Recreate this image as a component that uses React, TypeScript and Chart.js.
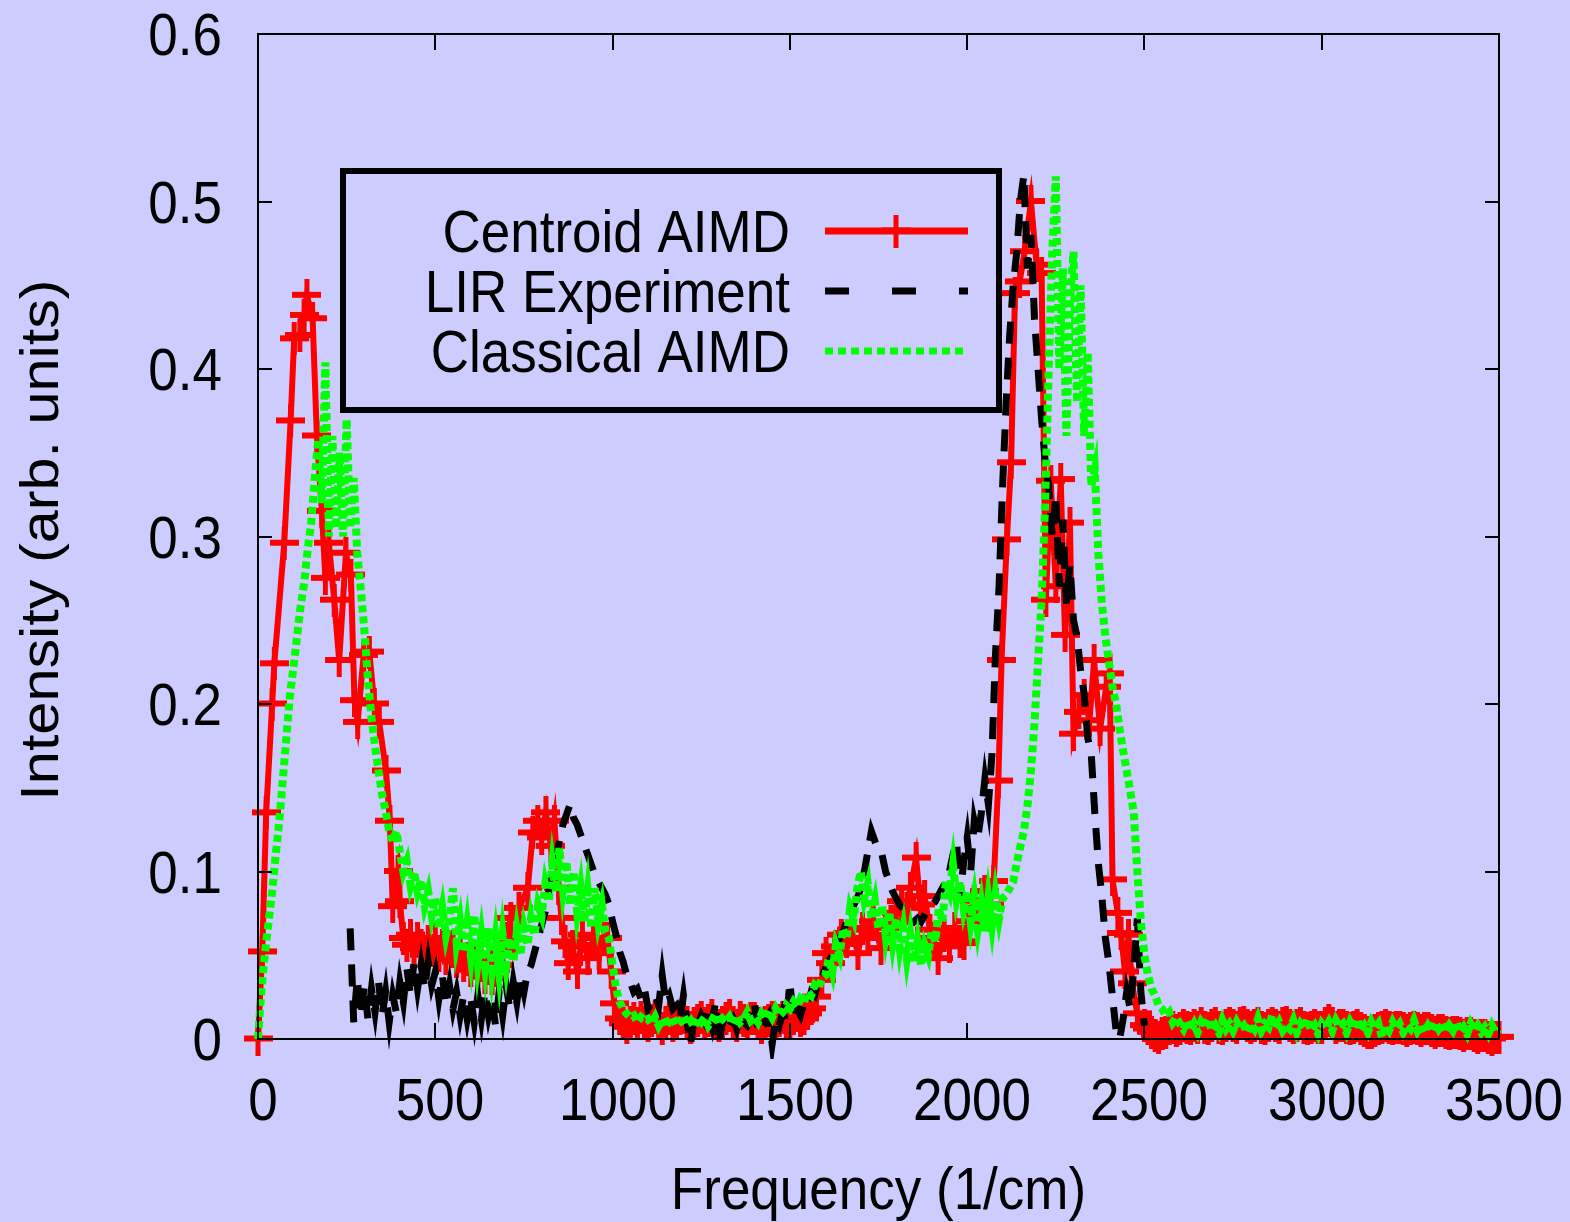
import { useEffect, useRef } from "react";
import { Chart, registerables } from "chart.js";

Chart.register(...registerables);

const FONT_FAMILY = '"Liberation Sans", Arimo, Arial, sans-serif';
const FONT_SIZE = 53;
const STRETCH = 1.12;

const xTickLabels = ["0", "500", "1000", "1500", "2000", "2500", "3000", "3500"];
const yTickLabels = ["0", "0.1", "0.2", "0.3", "0.4", "0.5", "0.6"];
const seriesNames = ["Centroid AIMD", "LIR Experiment", "Classical AIMD"];
const xTitle = "Frequency (1/cm)";
const yTitle = "Intensity (arb. units)";

// ---- Centroid AIMD (red, lines + points), in pieces ----
// low-frequency band, explicit frequencies
const centroidAFreq = [
  0, 12, 23, 40, 46, 74, 92, 102, 118, 130,
  138, 154, 166, 180, 190, 200, 215, 229, 248, 262,
  272, 281, 298, 314, 328, 342, 361, 372, 380, 395,
];
const centroidAIntensity = [
  0.000, 0.052, 0.135, 0.200, 0.224, 0.296, 0.369, 0.418, 0.420, 0.432,
  0.444, 0.430, 0.360, 0.315, 0.275, 0.296, 0.262, 0.226, 0.290, 0.277,
  0.202, 0.189, 0.229, 0.231, 0.200, 0.189, 0.160, 0.130, 0.079, 0.100,
];
// plateau 400..690, every 10 cm-1
const centroidBStart = 400;
const centroidBIntensity = [
  0.082, 0.060, 0.056, 0.062, 0.054, 0.060, 0.056, 0.050, 0.058, 0.053,
  0.060, 0.050, 0.056, 0.048, 0.055, 0.052, 0.046, 0.050, 0.044, 0.048,
  0.041, 0.046, 0.039, 0.044, 0.037, 0.042, 0.036, 0.041, 0.044, 0.052,
];
// 800 cm-1 band, explicit frequencies
const centroidCFreq = [
  700, 713, 736, 761, 775, 789, 800, 812, 826, 836,
  848, 856, 866, 875, 887, 901, 915, 930, 946, 962,
  975, 986, 996, 1005,
];
const centroidCIntensity = [
  0.060, 0.072, 0.078, 0.090, 0.123, 0.130, 0.120, 0.135, 0.115, 0.130,
  0.090, 0.072, 0.058, 0.045, 0.055, 0.040, 0.062, 0.048, 0.060, 0.051,
  0.060, 0.060, 0.040, 0.021,
];
// flat region 1020..1550, every 10 cm-1
const centroidDStart = 1020;
const centroidDIntensity = [
  0.012, 0.009, 0.007, 0.010, 0.012, 0.009, 0.013, 0.010, 0.008, 0.011,
  0.013, 0.009, 0.006, 0.010, 0.012, 0.008, 0.010, 0.012, 0.013, 0.010,
  0.007, 0.009, 0.011, 0.013, 0.009, 0.011, 0.014, 0.010, 0.008, 0.010,
  0.012, 0.014, 0.010, 0.008, 0.013, 0.011, 0.009, 0.012, 0.012, 0.009,
  0.007, 0.010, 0.011, 0.013, 0.009, 0.011, 0.013, 0.010, 0.010, 0.012,
  0.014, 0.011, 0.012, 0.015,
];
// 1560..2500, explicit frequencies
const centroidEFreq = [
  1560, 1575, 1590, 1602, 1615, 1630, 1645, 1660, 1675, 1692,
  1705, 1720, 1735, 1757, 1770, 1785, 1800, 1815, 1830, 1840,
  1856, 1868, 1880, 1895, 1905, 1918, 1935, 1950, 1965, 1980,
  1991, 2005, 2020, 2035, 2050, 2062, 2075, 2088, 2097, 2112,
  2124, 2135, 2148, 2162, 2180, 2196, 2210, 2222, 2236, 2250,
  2264, 2276, 2290, 2300, 2315, 2330, 2345, 2358, 2375, 2392,
  2402, 2410, 2425, 2434, 2445, 2455, 2465, 2480, 2500,
];
const centroidEIntensity = [
  0.018, 0.025, 0.035, 0.051, 0.045, 0.055, 0.062, 0.058, 0.065, 0.051,
  0.066, 0.060, 0.070, 0.054, 0.066, 0.070, 0.075, 0.082, 0.078, 0.090,
  0.108, 0.080, 0.085, 0.065, 0.060, 0.048, 0.062, 0.055, 0.066, 0.058,
  0.057, 0.070, 0.082, 0.075, 0.088, 0.080, 0.094, 0.154, 0.226, 0.298,
  0.344, 0.445, 0.452, 0.470, 0.500, 0.462, 0.457, 0.262, 0.333, 0.270,
  0.334, 0.241, 0.308, 0.182, 0.195, 0.205, 0.190, 0.226, 0.185, 0.210,
  0.218, 0.095, 0.075, 0.063, 0.040, 0.062, 0.033, 0.015, 0.008,
];
// tail 2510..3500, every 10 cm-1
const centroidFStart = 2510;
const centroidFIntensity = [
  0.006, 0.004, 0.002, 0.001, 0.003, 0.004, 0.006, 0.007, 0.005, 0.006,
  0.008, 0.007, 0.006, 0.008, 0.007, 0.009, 0.007, 0.006, 0.008, 0.009,
  0.007, 0.006, 0.008, 0.009, 0.008, 0.007, 0.009, 0.010, 0.008, 0.007,
  0.008, 0.009, 0.007, 0.006, 0.008, 0.009, 0.008, 0.007, 0.009, 0.010,
  0.008, 0.007, 0.008, 0.009, 0.007, 0.006, 0.007, 0.008, 0.007, 0.007,
  0.009, 0.011, 0.009, 0.007, 0.008, 0.008, 0.007, 0.006, 0.007, 0.008,
  0.006, 0.005, 0.004, 0.004, 0.005, 0.006, 0.007, 0.008, 0.007, 0.006,
  0.007, 0.007, 0.006, 0.005, 0.006, 0.007, 0.006, 0.005, 0.006, 0.006,
  0.005, 0.004, 0.005, 0.005, 0.004, 0.003, 0.004, 0.004, 0.003, 0.002,
  0.003, 0.003, 0.002, 0.001, 0.002, 0.002, 0.001, 0.000, 0.001, 0.001,
];
const centroidStep = 10;

// ---- LIR Experiment (black, dashed): 260, 270, ... 2500 ----
const lirStart = 260;
const lirStep = 10;
const lirIntensity = [
  0.066, 0.010, 0.036, 0.014, 0.032, 0.012, 0.030, 0.016, 0.034, 0.014,
  0.028, 0.010, 0.026, 0.016, 0.034, 0.022, 0.042, 0.026, 0.046, 0.030,
  0.044, 0.030, 0.046, 0.032, 0.040, 0.024, 0.038, 0.020, 0.032, 0.018,
  0.028, 0.014, 0.026, 0.012, 0.024, 0.010, 0.026, 0.012, 0.028, 0.014,
  0.024, 0.008, 0.028, 0.014, 0.032, 0.018, 0.034, 0.022, 0.038, 0.028,
  0.040, 0.044, 0.052, 0.060, 0.068, 0.076, 0.088, 0.100, 0.108, 0.118,
  0.128, 0.134, 0.140, 0.132, 0.128, 0.122, 0.116, 0.110, 0.104, 0.098,
  0.094, 0.090, 0.086, 0.080, 0.070, 0.062, 0.052, 0.046, 0.038, 0.034,
  0.028, 0.030, 0.024, 0.030, 0.018, 0.022, 0.026, 0.020, 0.038, 0.022,
  0.026, 0.018, 0.020, 0.012, 0.026, 0.010, -0.003, 0.012, 0.008, 0.014,
  0.010, 0.016, 0.008, 0.022, -0.003, 0.010, 0.014, 0.008, 0.012, 0.006,
  0.014, 0.010, 0.008, 0.012, 0.022, 0.006, 0.012, 0.010, 0.014, -0.003,
  0.012, 0.008, 0.016, 0.010, 0.034, 0.012, 0.018, 0.014, 0.022, 0.020,
  0.028, 0.026, 0.034, 0.036, 0.042, 0.046, 0.050, 0.056, 0.060, 0.064,
  0.070, 0.074, 0.080, 0.084, 0.090, 0.100, 0.112, 0.124, 0.118, 0.112,
  0.110, 0.100, 0.094, 0.088, 0.084, 0.080, 0.078, 0.075, 0.072, 0.070,
  0.072, 0.070, 0.074, 0.078, 0.080, 0.082, 0.086, 0.090, 0.094, 0.100,
  0.110, 0.118, 0.085, 0.105, 0.120, 0.100, 0.130, 0.120, 0.135, 0.155,
  0.140, 0.170, 0.230, 0.270, 0.330, 0.380, 0.420, 0.450, 0.470, 0.500,
  0.516, 0.460, 0.480, 0.430, 0.400, 0.370, 0.345, 0.330, 0.300, 0.325,
  0.270, 0.310, 0.260, 0.283, 0.250, 0.240, 0.220, 0.206, 0.180, 0.170,
  0.135, 0.105, 0.085, 0.060, 0.045, 0.025, 0.005, 0.000, 0.012, 0.028,
  0.018, 0.042, 0.072, 0.028, 0.008,
];

// ---- Classical AIMD (green, dotted): 0, 10, ... 3500 ----
const classicalStart = 0;
const classicalStep = 10;
const classicalIntensity = [
  0.000, 0.030, 0.052, 0.070, 0.088, 0.110, 0.130, 0.155, 0.180, 0.205,
  0.222, 0.240, 0.258, 0.272, 0.292, 0.308, 0.335, 0.358, 0.320, 0.404,
  0.300, 0.360, 0.305, 0.350, 0.300, 0.370, 0.305, 0.335, 0.290, 0.268,
  0.244, 0.215, 0.192, 0.175, 0.160, 0.146, 0.136, 0.124, 0.118, 0.124,
  0.112, 0.100, 0.106, 0.092, 0.100, 0.088, 0.095, 0.080, 0.088, 0.074,
  0.084, 0.066, 0.078, 0.062, 0.072, 0.090, 0.058, 0.070, 0.052, 0.068,
  0.050, 0.074, 0.046, 0.062, 0.044, 0.066, 0.042, 0.060, 0.040, 0.062,
  0.044, 0.060, 0.046, 0.064, 0.050, 0.066, 0.056, 0.072, 0.062, 0.080,
  0.074, 0.092, 0.082, 0.104, 0.088, 0.114, 0.090, 0.106, 0.080, 0.100,
  0.076, 0.090, 0.070, 0.088, 0.066, 0.090, 0.070, 0.080, 0.064, 0.060,
  0.044, 0.030, 0.022, 0.018, 0.015, 0.013, 0.014, 0.010, 0.013, 0.011,
  0.012, 0.009, 0.013, 0.008, 0.012, 0.007, 0.011, 0.013, 0.008, 0.010,
  0.014, 0.009, 0.011, 0.007, 0.012, 0.010, 0.013, 0.008, 0.011, 0.015,
  0.009, 0.012, 0.010, 0.013, 0.009, 0.014, 0.010, 0.012, 0.016, 0.011,
  0.013, 0.010, 0.015, 0.012, 0.017, 0.013, 0.018, 0.014, 0.016, 0.020,
  0.018, 0.022, 0.019, 0.024, 0.022, 0.028, 0.026, 0.032, 0.030, 0.036,
  0.038, 0.048, 0.040, 0.056, 0.050, 0.066, 0.060, 0.078, 0.072, 0.090,
  0.100, 0.084, 0.092, 0.072, 0.082, 0.066, 0.080, 0.062, 0.076, 0.058,
  0.072, 0.054, 0.066, 0.048, 0.062, 0.046, 0.058, 0.044, 0.056, 0.050,
  0.064, 0.058, 0.078, 0.070, 0.094, 0.088, 0.104, 0.084, 0.094, 0.078,
  0.088, 0.070, 0.084, 0.066, 0.080, 0.064, 0.084, 0.068, 0.086, 0.072,
  0.084, 0.086, 0.090, 0.094, 0.105, 0.115, 0.124, 0.139, 0.160, 0.189,
  0.225, 0.262, 0.320, 0.400, 0.470, 0.515, 0.400, 0.460, 0.360, 0.440,
  0.470, 0.380, 0.450, 0.360, 0.410, 0.330, 0.340, 0.290, 0.260, 0.240,
  0.225, 0.210, 0.200, 0.185, 0.172, 0.160, 0.148, 0.135, 0.100, 0.070,
  0.050, 0.038, 0.030, 0.026, 0.020, 0.018, 0.014, 0.016, 0.010, 0.013,
  0.009, 0.006, 0.011, 0.005, 0.009, 0.004, 0.010, 0.007, 0.012, 0.005,
  0.008, 0.004, 0.011, 0.006, 0.009, 0.005, 0.010, 0.006, 0.008, 0.004,
  0.009, 0.006, 0.012, 0.005, 0.009, 0.007, 0.014, 0.006, 0.010, 0.005,
  0.008, 0.006, 0.011, 0.004, 0.009, 0.006, 0.012, 0.005, 0.008, 0.003,
  0.009, 0.006, 0.010, 0.005, 0.011, 0.007, 0.009, 0.004, 0.010, 0.006,
  0.012, 0.005, 0.008, 0.004, 0.010, 0.006, 0.009, 0.001, 0.008, 0.005,
  0.010, 0.006, 0.009, 0.004, 0.008, 0.006, 0.011, 0.005, 0.009, 0.004,
  0.008, 0.005, 0.010, 0.006, 0.009, 0.004, 0.008, 0.005, 0.010, 0.004,
  0.007, 0.003, 0.009, 0.005, 0.008, 0.004, 0.007, 0.003, 0.008, 0.004,
  0.006,
];

const RED = "#ff0000";
const GREEN = "#00ff00";
const BLACK = "#000000";
const BG = "#ccccff";

function makeCross(): HTMLCanvasElement {
  const c = document.createElement("canvas");
  c.width = 29;
  c.height = 33;
  const g = c.getContext("2d") as CanvasRenderingContext2D;
  g.fillStyle = RED;
  g.fillRect(0, 13, 29, 6);
  g.fillRect(12, 0, 5, 33);
  return c;
}

function stretchedText(
  ctx: CanvasRenderingContext2D,
  text: string,
  x: number,
  baseline: number,
  align: CanvasTextAlign
) {
  ctx.save();
  ctx.translate(x, baseline);
  ctx.scale(1, STRETCH);
  ctx.textAlign = align;
  ctx.textBaseline = "alphabetic";
  ctx.fillText(text, 0, 0);
  ctx.restore();
}

export default function App() {
  const ref = useRef<HTMLCanvasElement | null>(null);

  useEffect(() => {
    const canvas = ref.current;
    if (!canvas) return;
    const cross = makeCross();

    const grid = (start: number, vals: number[]) =>
      vals.map((v, i) => ({ x: start + i * centroidStep, y: v }));
    const explicit = (fr: number[], vals: number[]) =>
      fr.map((f, i) => ({ x: f, y: vals[i] }));

    const centroidData = [
      ...explicit(centroidAFreq, centroidAIntensity),
      ...grid(centroidBStart, centroidBIntensity),
      ...explicit(centroidCFreq, centroidCIntensity),
      ...grid(centroidDStart, centroidDIntensity),
      ...explicit(centroidEFreq, centroidEIntensity),
      ...grid(centroidFStart, centroidFIntensity),
    ];
    const lirData = lirIntensity.map((v, i) => ({ x: lirStart + i * lirStep, y: v }));
    const classicalData = classicalIntensity.map((v, i) => ({
      x: classicalStart + i * classicalStep,
      y: v,
    }));

    const decor = {
      id: "gnuplotDecor",
      beforeDraw(chart: any) {
        const ctx = chart.ctx as CanvasRenderingContext2D;
        ctx.save();
        ctx.fillStyle = BG;
        ctx.fillRect(0, 0, chart.width, chart.height);
        ctx.restore();
      },
      afterDraw(chart: any) {
        const ctx = chart.ctx as CanvasRenderingContext2D;
        const { left, right, top, bottom } = chart.chartArea;
        const xs = chart.scales.x;
        const ys = chart.scales.y;
        ctx.save();
        ctx.strokeStyle = BLACK;
        ctx.fillStyle = BLACK;
        ctx.lineWidth = 2;
        ctx.font = `${FONT_SIZE}px ${FONT_FAMILY}`;

        ys.ticks.forEach((t: any) => {
          const py = Math.round(ys.getPixelForValue(t.value));
          ctx.beginPath();
          ctx.moveTo(left, py);
          ctx.lineTo(left + 14, py);
          ctx.moveTo(right - 14, py);
          ctx.lineTo(right, py);
          ctx.stroke();
          const lbl = yTickLabels[Math.round(t.value * 10)];
          if (lbl !== undefined) stretchedText(ctx, lbl, left - 36, py + 21, "right");
        });
        xs.ticks.forEach((t: any) => {
          const px = Math.round(xs.getPixelForValue(t.value));
          ctx.beginPath();
          ctx.moveTo(px, bottom);
          ctx.lineTo(px, bottom - 16);
          ctx.moveTo(px, top);
          ctx.lineTo(px, top + 16);
          ctx.stroke();
          const lbl = xTickLabels[Math.round(t.value / 500)];
          if (lbl !== undefined) stretchedText(ctx, lbl, px + 5, bottom + 81, "center");
        });
        ctx.strokeRect(left, top, right - left, bottom - top);

        stretchedText(ctx, xTitle, (left + right) / 2, 1209, "center");
        ctx.save();
        ctx.translate(58, 540);
        ctx.rotate(-Math.PI / 2);
        ctx.scale(STRETCH, 1);
        ctx.textAlign = "center";
        ctx.textBaseline = "alphabetic";
        ctx.fillText(yTitle, 0, 0);
        ctx.restore();

        // legend
        ctx.lineWidth = 6;
        ctx.strokeRect(343, 171, 656, 239);
        const baselines = [252, 312, 371.5];
        const centers = [231, 291, 351];
        seriesNames.forEach((name, i) => stretchedText(ctx, name, 790, baselines[i], "right"));
        ctx.lineCap = "butt";
        ctx.lineWidth = 7;
        ctx.strokeStyle = RED;
        ctx.setLineDash([]);
        ctx.beginPath();
        ctx.moveTo(825, centers[0]);
        ctx.lineTo(968, centers[0]);
        ctx.stroke();
        ctx.drawImage(cross, 896 - cross.width / 2, centers[0] - cross.height / 2);

        ctx.strokeStyle = BLACK;
        ctx.setLineDash([24, 43]);
        ctx.beginPath();
        ctx.moveTo(825, centers[1]);
        ctx.lineTo(968, centers[1]);
        ctx.stroke();

        ctx.strokeStyle = GREEN;
        ctx.setLineDash([8, 5]);
        ctx.beginPath();
        ctx.moveTo(825, centers[2]);
        ctx.lineTo(968, centers[2]);
        ctx.stroke();
        ctx.restore();
      },
    };

    const chart = new Chart(canvas, {
      type: "line",
      data: {
        datasets: [
          {
            label: seriesNames[0],
            data: centroidData,
            borderColor: RED,
            backgroundColor: RED,
            borderWidth: 6,
            pointStyle: cross as any,
            pointRadius: 14,
            pointHoverRadius: 14,
            fill: false,
            order: 2,
            clip: 20,
          },
          {
            label: seriesNames[1],
            data: lirData,
            borderColor: BLACK,
            backgroundColor: BLACK,
            borderWidth: 7,
            borderDash: [22, 14],
            pointRadius: 0,
            fill: false,
            order: 1,
            clip: 20,
          },
          {
            label: seriesNames[2],
            data: classicalData,
            borderColor: GREEN,
            backgroundColor: GREEN,
            borderWidth: 8,
            borderDash: [7, 4],
            pointRadius: 0,
            fill: false,
            order: 0,
            clip: 20,
          },
        ],
      } as any,
      options: {
        responsive: false,
        animation: false,
        devicePixelRatio: 1,
        events: [],
        layout: { padding: { top: 34, right: 71, left: 0, bottom: 0 } },
        plugins: {
          legend: { display: false },
          tooltip: { enabled: false },
          title: { display: false },
        },
        scales: {
          x: {
            type: "linear",
            min: 0,
            max: 3500,
            ticks: { stepSize: 500, display: false },
            grid: { display: false },
            border: { display: false },
            afterFit: (s: any) => {
              s.height = 183;
            },
          },
          y: {
            type: "linear",
            min: 0,
            max: 0.6,
            ticks: { stepSize: 0.1, display: false },
            grid: { display: false },
            border: { display: false },
            afterFit: (s: any) => {
              s.width = 258;
            },
          },
        },
      } as any,
      plugins: [decor],
    });

    return () => chart.destroy();
  }, []);

  return (
    <div style={{ position: "absolute", left: 0, top: 0, width: 1570, height: 1222, background: BG }}>
      <canvas ref={ref} width={1570} height={1222} style={{ display: "block" }} />
    </div>
  );
}
